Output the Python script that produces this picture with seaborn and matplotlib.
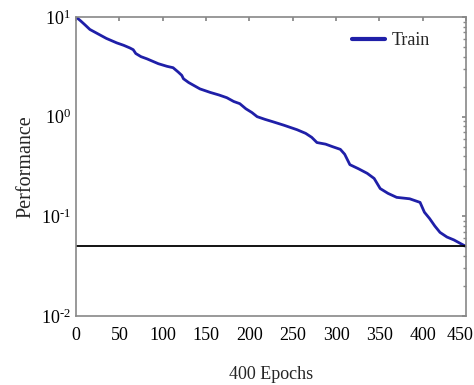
import numpy as np
import pandas as pd
import matplotlib
matplotlib.use("Agg")
import matplotlib.pyplot as plt
import matplotlib.transforms as mtransforms
import seaborn as sns
from matplotlib.ticker import FixedLocator, FixedFormatter

epochs = [0, 5, 10, 16, 25, 35, 47, 55, 62, 66, 69, 75, 82, 95, 105, 112, 118, 122, 124, 130, 143, 155, 165, 174, 182, 189, 196, 203, 209, 218, 227, 240, 255, 265, 272, 278, 288, 296, 305, 310, 316, 326, 336, 344, 351, 360, 370, 385, 397, 402, 408, 414, 420, 428, 436, 446, 450]
performance = [10.0, 9.2, 8.4, 7.5, 6.8, 6.1, 5.5, 5.2, 4.9, 4.7, 4.3, 4.0, 3.8, 3.4, 3.2, 3.1, 2.8, 2.6, 2.4, 2.2, 1.9, 1.75, 1.65, 1.55, 1.42, 1.35, 1.2, 1.1, 1.0, 0.94, 0.89, 0.82, 0.74, 0.68, 0.62, 0.55, 0.53, 0.50, 0.47, 0.42, 0.33, 0.30, 0.27, 0.24, 0.19, 0.17, 0.155, 0.15, 0.138, 0.11, 0.095, 0.08, 0.069, 0.062, 0.058, 0.052, 0.05]
goal = 0.05
xticks = [0, 50, 100, 150, 200, 250, 300, 350, 400, 450]
yticks = [0.01, 0.1, 1, 10]
ytick_labels = [r"$\mathregular{10^{\text{-}2}}$", r"$\mathregular{10^{\text{-}1}}$",
                r"$\mathregular{10^{0}}$", r"$\mathregular{10^{1}}$"]

sns.set_theme(style="white")
plt.rcParams['font.family'] = ['Liberation Serif', 'DejaVu Serif']
plt.rcParams['mathtext.fontset'] = 'custom'
plt.rcParams['mathtext.rm'] = 'Liberation Serif'
plt.rcParams['mathtext.it'] = 'Liberation Serif:italic'
plt.rcParams['mathtext.default'] = 'regular'
plt.rcParams['axes.unicode_minus'] = False

df = pd.DataFrame({"Epoch": epochs, "Performance": performance})

fig = plt.figure(figsize=(4.74, 3.85), dpi=100)
ax = fig.add_axes([76/474, 1-316/385, 390/474, 299/385])
sns.lineplot(data=df, x="Epoch", y="Performance", ax=ax, color="#1f1fa8", linewidth=2.0, label="Train")
ax.axhline(goal, color="black", linewidth=1.3)
ax.set_yscale("log")
ax.set_ylim(1e-2, 10)
ax.set_xlim(0, 450)
ax.yaxis.set_major_locator(FixedLocator(yticks))
ax.yaxis.set_major_formatter(FixedFormatter(ytick_labels))
ax.set_xticks(xticks)
ax.set_xticklabels([str(t) for t in xticks])
ax.set_xlabel("400 Epochs", fontsize=13, labelpad=16)
ax.set_ylabel("Performance", fontsize=14.5, labelpad=4)
ax.tick_params(axis="both", which="both", direction="in", top=True, right=True, labelsize=13, colors="#888888", labelcolor="black")
ax.tick_params(which="major", length=3)
ax.tick_params(which="minor", length=2)
ax.tick_params(axis="x", which="major", pad=8)
for s in ax.spines.values():
    s.set_color("#888888")
    s.set_linewidth(1.2)
last = ax.get_xticklabels()[-1]
last.set_transform(last.get_transform() + mtransforms.ScaledTranslation(-6/100, 0, fig.dpi_scale_trans))
leg = ax.legend(loc="upper right", bbox_to_anchor=(0.955, 1.01), frameon=False, fontsize=13,
                handlelength=1.8, handletextpad=0.4, borderaxespad=0.6)
for h in leg.get_lines():
    h.set_linewidth(3)
fig.savefig("out.png", dpi=100)
